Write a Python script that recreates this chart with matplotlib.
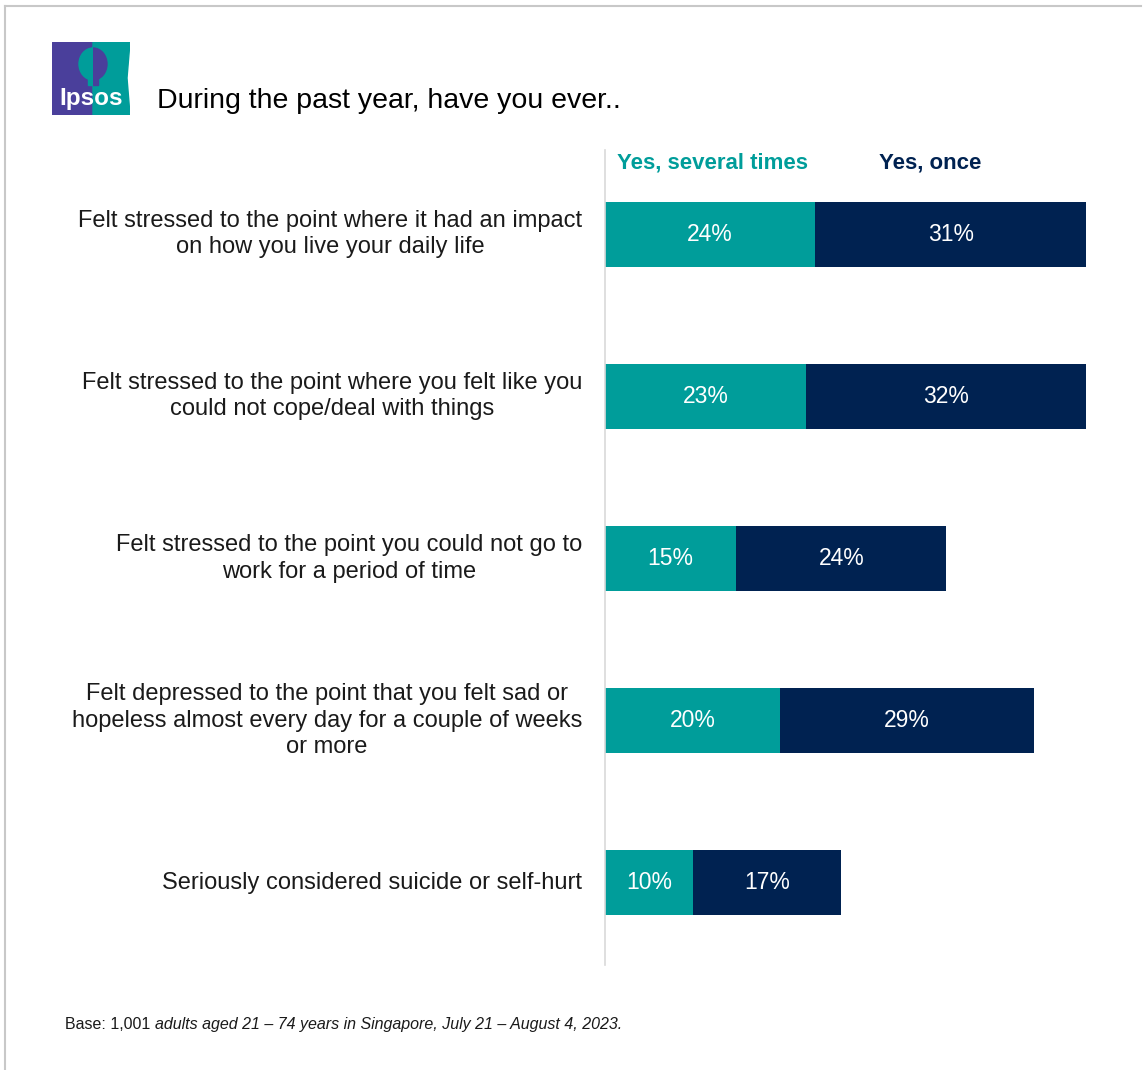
import matplotlib
matplotlib.use("Agg")
from matplotlib import pyplot
from matplotlib import patches

pyplot.rcParams['font.family'] = ['Liberation Sans', 'DejaVu Sans']

# chart data
questions = [
    "Felt stressed to the point where it had an impact\non how you live your daily life",
    "Felt stressed to the point where you felt like you\ncould not cope/deal with things",
    "Felt stressed to the point you could not go to\nwork for a period of time",
    "Felt depressed to the point that you felt sad or\nhopeless almost every day for a couple of weeks\nor more",
    "Seriously considered suicide or self-hurt",
]
several_times = [24, 23, 15, 20, 10]
once = [31, 32, 24, 29, 17]
series_names = ["Yes, several times", "Yes, once"]

TEAL = "#009d9a"
NAVY = "#002251"
PURPLE = "#4a3f9b"

W, H = 1145, 1070
fig = pyplot.figure(figsize=(W / 100, H / 100), dpi=100)


def fx(px):
    return px / W


def fy(py):
    return 1 - py / H


# frame lines (top and left)
fig.add_artist(pyplot.Line2D([fx(5), fx(1141)], [fy(6), fy(6)], color="#c8c8c8", lw=1.5))
fig.add_artist(pyplot.Line2D([fx(5), fx(5)], [fy(6), fy(1070)], color="#c8c8c8", lw=1.5))

# main axes in pixel layout
ax = fig.add_axes([fx(605), fy(965), fx(540), (965 - 150) / H])
px_per_pct = 8.75
ax.set_xlim(0, 540 / px_per_pct)
ax.set_ylim(4 + 82 / 162, -84 / 162)

ypos = list(range(len(questions)))
ax.barh(ypos, several_times, height=0.4, color=TEAL)
ax.barh(ypos, once, left=several_times, height=0.4, color=NAVY)

for y, a, b in zip(ypos, several_times, once):
    ax.text(a / 2, y, "%d%%" % a, ha="center", va="center", color="white", fontsize=16.5)
    ax.text(a + b / 2, y, "%d%%" % b, ha="center", va="center", color="white", fontsize=16.5)

for y, q in zip(ypos, questions):
    ax.text(-23 / px_per_pct, y, q, ha="right", va="center", multialignment="center",
            fontsize=17, color="#1a1a1a", linespacing=1.25)

ax.text(12 / px_per_pct, -0.44, series_names[0], ha="left", va="center",
        fontsize=16, fontweight="bold", color=TEAL)
ax.text(274 / px_per_pct, -0.44, series_names[1], ha="left", va="center",
        fontsize=16, fontweight="bold", color=NAVY)

for side in ["top", "right", "bottom"]:
    ax.spines[side].set_visible(False)
ax.spines["left"].set_color("#d9d9d9")
ax.spines["left"].set_linewidth(1.2)
ax.set_xticks([])
ax.set_yticks([])

# title
fig.text(fx(157), fy(101), "During the past year, have you ever..", fontsize=20.5,
         va="center", ha="left", color="black")

# logo
lax = fig.add_axes([fx(52), fy(115), fx(78), 73 / H])
lax.set_xlim(0, 78)
lax.set_ylim(73, 0)
lax.axis("off")
left_part = patches.Rectangle((0, 0), 41, 73, color=PURPLE)
right_part = patches.Polygon([(41, 0), (78, 0), (75, 36), (78, 73), (41, 73)], closed=True, color=TEAL)
lax.add_patch(left_part)
lax.add_patch(right_part)
head_l = patches.Ellipse((41, 22), 28, 32, color=TEAL)
head_r = patches.Ellipse((41, 22), 28, 32, color=PURPLE)
neck_l = patches.Rectangle((36, 32), 10, 11, color=TEAL)
neck_r = patches.Rectangle((36, 32), 10, 11, color=PURPLE)
for p, clip in [(head_l, left_part), (head_r, right_part), (neck_l, left_part), (neck_r, right_part)]:
    lax.add_patch(p)
    p.set_clip_path(clip)
lax.text(39, 57, "Ipsos", color="white", fontsize=17.5, fontweight="bold", ha="center", va="center")

# footer with mixed styles
t1 = fig.text(fx(65), fy(1029), "Base: 1,001 ", fontsize=11.5, va="baseline", ha="left", color="#1a1a1a")
fig.canvas.draw()
bb = t1.get_window_extent()
fig.text(bb.x1 / W, fy(1029), "adults aged 21 \u2013 74 years in Singapore, July 21 \u2013 August 4, 2023.",
         fontsize=11.5, style="italic", va="baseline", ha="left", color="#1a1a1a")

fig.savefig("out.png", dpi=100, facecolor="white")
